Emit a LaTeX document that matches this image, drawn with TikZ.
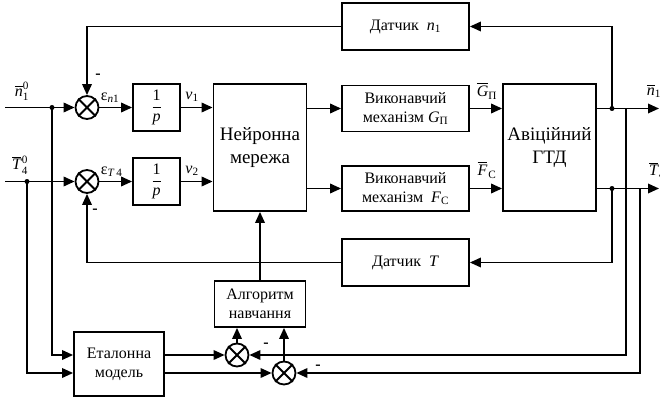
\documentclass[tikz,border=0pt]{standalone}
\usepackage{fix-cm}
\usepackage{amsmath}
\usepackage{fontspec}
\setmainfont{Liberation Serif}
\newfontfamily\bodyfont{Liberation Serif}
\usetikzlibrary{arrows.meta}

% italic letter inside math
\newcommand{\mi}[1]{\text{\bodyfont\itshape #1}}
\newcommand{\up}[1]{\text{\bodyfont #1}}

\begin{document}
\begin{tikzpicture}[x=1pt,y=-1pt,
  line width=1.8pt,
  arr/.style={-{Triangle[length=11pt,width=9.5pt]}},
  block/.style={draw,rectangle,align=center,inner sep=0pt,
    font=\bodyfont\fontsize{16}{19}\selectfont},
  bigblock/.style={block,font=\bodyfont\fontsize{19}{23}\selectfont},
  sumnode/.style={draw,circle,minimum size=23pt,inner sep=0pt},
  lbl/.style={font=\bodyfont\fontsize{16}{19}\selectfont,inner sep=0pt},
  minus/.style={font=\bodyfont\fontsize{16}{19}\selectfont\bfseries,inner sep=0pt},
  jdot/.style={fill,circle,inner sep=0pt,minimum size=5pt}]

\useasboundingbox (0,0) rectangle (660,398);
\clip (0,0) rectangle (660,398);

% blocks
\node[block,minimum width=127pt,minimum height=47pt] (dn1) at (405.5,26.5) {Датчик\ \ $\mi{n}_{\up{1}}$};
\node[block,minimum width=47pt,minimum height=47pt] (p1) at (156.5,107.5) {$\dfrac{\up{1}}{\mi{p}}$};
\node[block,minimum width=47pt,minimum height=47pt] (p2) at (156.5,181.5) {$\dfrac{\up{1}}{\mi{p}}$};
\node[bigblock,minimum width=93pt,minimum height=127pt] (nn) at (260,147.5) {Нейронна\\мережа};
\node[block,minimum width=127pt,minimum height=46pt] (em1) at (405.5,108.5) {Виконавчий\\механізм \textit{G}\textsubscript{П}};
\node[block,minimum width=127pt,minimum height=45pt] (em2) at (405.5,188.5) {Виконавчий\\механізм \ \textit{F}\textsubscript{C}};
\node[bigblock,minimum width=93pt,minimum height=127pt] (gtd) at (549.5,147.5) {Авіційний\\ГТД};
\node[block,minimum width=127pt,minimum height=47pt] (dt) at (405.5,262.5) {Датчик\ \ \textit{T}};
\node[block,minimum width=91pt,minimum height=46pt] (alg) at (260,304) {Алгоритм\\навчання};
\node[block,minimum width=90pt,minimum height=64pt] (etal) at (119,364) {Еталонна\\модель};

% comparators
\node[sumnode] (s1) at (87,107.5) {};
\node[sumnode] (s2) at (87,181.5) {};
\node[sumnode] (s3) at (237,355) {};
\node[sumnode] (s4) at (284,373) {};
\foreach \s in {s1,s2,s3,s4}
  \draw (\s.north west) -- (\s.south east) (\s.north east) -- (\s.south west);

% branch points
\coordinate (in1) at (5,107.5);
\coordinate (in2) at (5,181.5);
\coordinate (j1) at (52,107.5);
\coordinate (j2) at (27,181.5);
\coordinate (out1) at (659,108.5);
\coordinate (out2) at (659,188.5);
\coordinate (d1) at (612,108.5);
\coordinate (d2) at (612,188.5);
\coordinate (b1) at (626,108.5);
\coordinate (b2) at (640,188.5);

% forward path
\draw[arr] (in1) -- (s1);
\draw[arr] (in2) -- (s2);
\draw[arr] (s1) -- (p1);
\draw[arr] (s2) -- (p2);
\draw[arr] (p1) -- (p1 -| nn.west);
\draw[arr] (p2) -- (p2 -| nn.west);
\draw[arr] (nn.east |- em1) -- (em1);
\draw[arr] (nn.east |- em2) -- (em2);
\draw[arr] (em1) -- (em1 -| gtd.west);
\draw[arr] (em2) -- (em2 -| gtd.west);
\draw[arr] (gtd.east |- out1) -- (out1);
\draw[arr] (gtd.east |- out2) -- (out2);

% sensor feedback
\draw[arr] (d1) |- (dn1);
\draw[arr] (dn1) -| (s1);
\draw[arr] (d2) |- (dt);
\draw[arr] (dt) -| (s2);

% learning loop
\draw[arr] (alg) -- (alg |- nn.south);
\draw[arr] (j1) |- (etal.west |- s3);
\draw[arr] (j2) |- (etal.west |- s4);
\draw[arr] (etal.east |- s3) -- (s3);
\draw[arr] (etal.east |- s4) -- (s4);
\draw[arr] (s3) -- (s3 |- alg.south);
\draw[arr] (s4) -- (s4 |- alg.south);
\draw[arr] (b1) |- (s3);
\draw[arr] (b2) |- (s4);

% junction dots
\foreach \p in {j1,j2,d1,d2} \node[jdot] at (\p) {};

% signal labels
\node[lbl] (ln1) at (22,91) {$\overline{\mi{n}}_{\up{1}}^{\up{0}}$};
\node[lbl] (lt4) at (20,165) {$\overline{\mi{T}}\mkern1mu{}_{\up{4}}^{\up{0}}$};
\node[lbl,anchor=west] (le1) at (100,98) {ε\textsubscript{\textit{n}1}};
\node[lbl,anchor=west] (le2) at (100,172) {ε\textsubscript{\textit{T}\,4}};
\node[lbl] (lv1) at (192,97) {$\mi{v}_{\up{1}}$};
\node[lbl] (lv2) at (192,171) {$\mi{v}_{\up{2}}$};
\node[lbl] (lg) at (487,91) {$\overline{\mi{G}}_{\up{П}}$};
\node[lbl] (lf) at (487,170) {$\overline{\mi{F}}\mkern1mu{}_{\up{C}}$};
\node[lbl] (lo1) at (654,91) {$\overline{\mi{n}}_{\up{1}}$};
\node[lbl] (lo2) at (657,170) {$\overline{\mi{T}}\mkern1mu{}_{\up{4}}$};

% minus signs
\node[minus] (m1) at (98,76) {-};
\node[minus] (m2) at (95,211) {-};
\node[minus] (m3) at (266,345) {-};
\node[minus] (m4) at (318,367) {-};
\end{tikzpicture}
\end{document}
